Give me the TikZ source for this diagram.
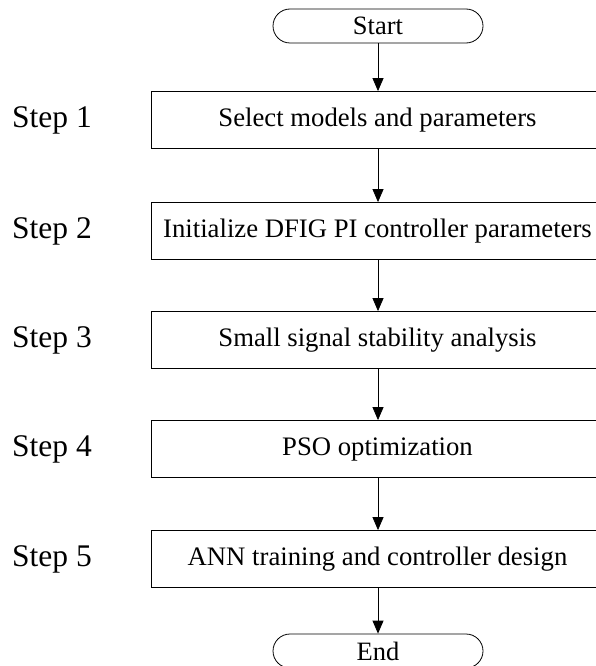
\documentclass[tikz,border=0pt]{standalone}
\usepackage{fontspec}
\setmainfont{Liberation Serif}
\usetikzlibrary{arrows.meta}
\begin{document}
\begin{tikzpicture}[x=1pt,y=1pt,
  every node/.style={inner sep=0pt},
  terminal/.style={draw, line width=0.8pt, rounded corners=17pt,
    minimum width=210pt, minimum height=34pt, font=\fontsize{26.5}{30}\selectfont},
  stepbox/.style={draw, line width=0.8pt, minimum width=453pt, minimum height=57pt,
    font=\fontsize{26.7}{30}\selectfont},
  steplabel/.style={anchor=west, font=\fontsize{31.5}{35}\selectfont},
  flow/.style={line width=0.8pt, -{Triangle[length=13pt,width=11pt]}}]
\useasboundingbox (0,0) rectangle (595,-666);
\node[terminal] (start) at (378,-26) {Start};
\node[stepbox] (s1) at (377.5,-120) {Select models and parameters};
\node[stepbox] (s2) at (377.5,-231) {Initialize DFIG PI controller parameters};
\node[stepbox] (s3) at (377.5,-340) {Small signal stability analysis};
\node[stepbox] (s4) at (377.5,-449) {PSO optimization};
\node[stepbox] (s5) at (377.5,-559) {ANN training and controller design};
\node[terminal] (end) at (378,-651) {End};
\node[steplabel] (l1) at (12,-120) {Step 1};
\node[steplabel] (l2) at (12,-231) {Step 2};
\node[steplabel] (l3) at (12,-340) {Step 3};
\node[steplabel] (l4) at (12,-449) {Step 4};
\node[steplabel] (l5) at (12,-559) {Step 5};
\draw[flow] (start.south -| 378,0) -- (s1.north -| 378,0);
\draw[flow] (s1.south -| 378,0) -- (s2.north -| 378,0);
\draw[flow] (s2.south -| 378,0) -- (s3.north -| 378,0);
\draw[flow] (s3.south -| 378,0) -- (s4.north -| 378,0);
\draw[flow] (s4.south -| 378,0) -- (s5.north -| 378,0);
\draw[flow] (s5.south -| 378,0) -- (end.north -| 378,0);
\end{tikzpicture}
\end{document}
